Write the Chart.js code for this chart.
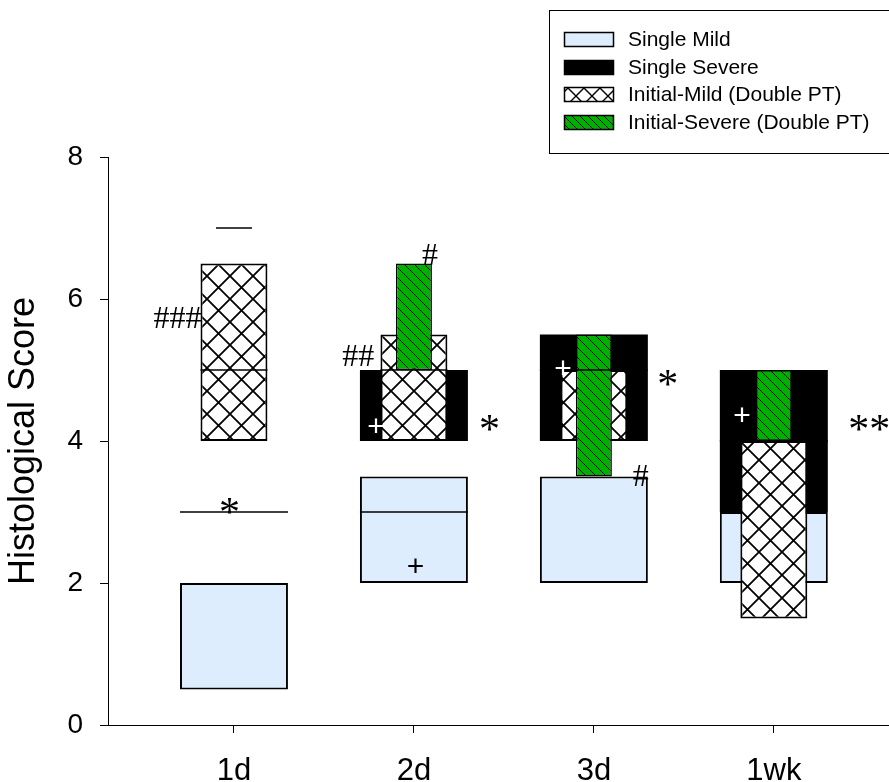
<!DOCTYPE html>
<html>
<head>
<meta charset="utf-8">
<title>Histological Score</title>
<script src="https://cdn.jsdelivr.net/npm/chart.js@4.4.1/dist/chart.umd.min.js"></script>
<style>
  body { margin: 0; background: #fff; }
  #wrap { width: 889px; height: 782px; }
</style>
</head>
<body>
<div id="wrap"><canvas id="score" width="889" height="782"></canvas></div>
<script>
// time points and y ticks
const categories = ['1d', '2d', '3d', '1wk'];
const yTicks = [0, 2, 4, 6, 8];

// boxes, [25th, 75th] percentile for each time point
const singleMild = [[0.5, 2], [2, 3.5], [2, 3.5], [2, 3]];
const singleSevere = [[3, 3], [4, 5], [4, 5.5], [3, 5]];
const initialMild = [[4, 6.5], [4, 5.5], [4, 5], [1.5, 4]];
const initialSevere = [[7, 7], [5, 6.5], [3.5, 5.5], [4, 5]];

// medians
const singleMildMed = [2, 3, 2, 2];
const singleSevereMed = [3, 4, 5, 4];
const initialMildMed = [5, 5, 4, 4];
const initialSevereMed = [7, 5, 5, 5];

// significance marks (x in category units, y in score)
const marks = [
    { text: '###', x: 0.686, y: 5.74 },
    { text: '*', x: 0.975, y: 3.08 },
    { text: '#', x: 2.09, y: 6.63 },
    { text: '##', x: 1.69, y: 5.2 },
    { text: '+', x: 1.79, y: 4.22, white: true },
    { text: '*', x: 2.42, y: 4.26 },
    { text: '+', x: 2.01, y: 2.25 },
    { text: '+', x: 2.83, y: 5.03, white: true },
    { text: '*', x: 3.41, y: 4.89 },
    { text: '#', x: 3.26, y: 3.51 },
    { text: '+', x: 3.825, y: 4.37, white: true },
    { text: '**', x: 4.53, y: 4.26 }
];

const pos = categories.map((c, i) => i + 1);
const toPoints = boxes => boxes.map((b, i) => ({ x: pos[i], y: b }));

// Patterns
function crossHatch(size, lw) {
    const c = document.createElement('canvas');
    c.width = c.height = size;
    const g = c.getContext('2d');
    g.fillStyle = '#fff';
    g.fillRect(0, 0, size, size);
    g.strokeStyle = '#000';
    g.lineWidth = lw;
    g.beginPath();
    g.moveTo(-1, -1); g.lineTo(size + 1, size + 1);
    g.moveTo(size + 1, -1); g.lineTo(-1, size + 1);
    g.stroke();
    return g.createPattern(c, 'repeat');
}

function diagHatch(size, color) {
    const c = document.createElement('canvas');
    c.width = c.height = size;
    const g = c.getContext('2d');
    g.fillStyle = color;
    g.fillRect(0, 0, size, size);
    g.strokeStyle = '#000';
    g.lineWidth = 1;
    g.beginPath();
    g.moveTo(-1, -1); g.lineTo(size + 1, size + 1);
    g.stroke();
    return g.createPattern(c, 'repeat');
}

const GREEN = '#00b000';
const mildFill = crossHatch(23, 1.8);
const severeFill = diagHatch(10, GREEN);

// median line per box, drawn right after its own dataset
const medianLines = {
    id: 'medianLines',
    afterDatasetDraw(chart, args) {
        const ds = chart.data.datasets[args.index];
        if (!ds.medians) return;
        const ctx = chart.ctx;
        const y = chart.scales.y;
        ctx.save();
        ctx.strokeStyle = '#000';
        ctx.lineWidth = 1.5;
        args.meta.data.forEach((bar, i) => {
            const m = ds.medians[i];
            const [lo, hi] = ds.data[i].y;
            if (m == null) return;
            // a median sitting on the box edge is already drawn by the border
            if (lo !== hi && (m === lo || m === hi)) return;
            const p = y.getPixelForValue(m);
            ctx.beginPath();
            ctx.moveTo(bar.x - bar.width / 2, p);
            ctx.lineTo(bar.x + bar.width / 2, p);
            ctx.stroke();
        });
        ctx.restore();
    }
};

// *, #, + marks
const sigMarks = {
    id: 'sigMarks',
    afterDatasetsDraw(chart) {
        const ctx = chart.ctx;
        const xs = chart.scales.x, ys = chart.scales.y;
        ctx.save();
        ctx.textAlign = 'left';
        ctx.textBaseline = 'alphabetic';
        marks.forEach(mk => {
            if (mk.text.startsWith('+')) ctx.font = '30px "Liberation Sans", Arial, sans-serif';
            else if (mk.text.startsWith('*')) ctx.font = '42px "Liberation Serif", "Times New Roman", serif';
            else ctx.font = '32px "Liberation Serif", "Times New Roman", serif';
            ctx.fillStyle = mk.white ? '#fff' : '#000';
            const m = ctx.measureText(mk.text);
            const w = m.actualBoundingBoxLeft + m.actualBoundingBoxRight;
            const h = m.actualBoundingBoxAscent + m.actualBoundingBoxDescent;
            const px = xs.getPixelForValue(mk.x) - w / 2 + m.actualBoundingBoxLeft;
            const py = ys.getPixelForValue(mk.y) - h / 2 + m.actualBoundingBoxAscent;
            ctx.fillText(mk.text, px, py);
        });
        ctx.restore();
    }
};

// boxed legend at the top right
const legendSwatch = {
    'Single Mild': '#deedfd',
    'Single Severe': '#000',
    'Initial-Mild (Double PT)': crossHatch(16, 1.4),
    'Initial-Severe (Double PT)': diagHatch(8, GREEN)
};
const boxLegend = {
    id: 'boxLegend',
    afterDraw(chart) {
        const ctx = chart.ctx;
        ctx.save();
        ctx.strokeStyle = '#000';
        ctx.lineWidth = 1;
        ctx.strokeRect(549.5, 10.5, 360, 143);
        ctx.font = '21px "Liberation Sans", Arial, sans-serif';
        ctx.textBaseline = 'middle';
        chart.data.datasets.forEach((ds, i) => {
            const top = Math.round(32 + i * 27.5);
            ctx.fillStyle = legendSwatch[ds.label];
            ctx.fillRect(564, top, 50, 15);
            ctx.lineWidth = 1.5;
            ctx.strokeRect(564.5, top + 0.5, 49, 14);
            ctx.fillStyle = '#000';
            ctx.fillText(ds.label, 628, top + 8);
        });
        ctx.restore();
    }
};

Chart.defaults.font.family = '"Liberation Sans", Arial, sans-serif';
Chart.defaults.color = '#000';

const ctx = document.getElementById('score').getContext('2d');
new Chart(ctx, {
    type: 'bar',
    data: {
        datasets: [{
            label: 'Single Mild',
            data: toPoints(singleMild),
            medians: singleMildMed,
            backgroundColor: '#deedfd',
            borderColor: '#000',
            borderWidth: 2,
            barPercentage: 0.6,
            order: 4
        }, {
            label: 'Single Severe',
            data: toPoints(singleSevere),
            medians: singleSevereMed,
            backgroundColor: '#000',
            borderWidth: 0,
            barPercentage: 0.6,
            order: 3
        }, {
            label: 'Initial-Mild (Double PT)',
            data: toPoints(initialMild),
            medians: initialMildMed,
            backgroundColor: mildFill,
            borderColor: '#000',
            borderWidth: 2,
            barPercentage: 0.372,
            order: 2
        }, {
            label: 'Initial-Severe (Double PT)',
            data: toPoints(initialSevere),
            medians: initialSevereMed,
            backgroundColor: severeFill,
            borderColor: '#000',
            borderWidth: 1.5,
            barPercentage: 0.2,
            order: 1
        }]
    },
    options: {
        responsive: false,
        animation: false,
        datasets: {
            bar: { grouped: false, categoryPercentage: 1, borderSkipped: false }
        },
        layout: { padding: { top: 157, right: 0, bottom: 0, left: 0 } },
        plugins: {
            legend: { display: false },
            tooltip: { enabled: false }
        },
        scales: {
            x: {
                type: 'linear',
                min: 0.3,
                max: 4.64,
                offset: false,
                afterBuildTicks: s => { s.ticks = pos.map(v => ({ value: v })); },
                afterFit: s => { s.height = 57; },
                border: { display: true, color: '#000', width: 1 },
                grid: { drawOnChartArea: false, drawTicks: true, tickLength: 8, color: '#000', offset: false },
                ticks: {
                    font: { size: 31 },
                    padding: 20,
                    maxRotation: 0,
                    autoSkip: false,
                    callback: v => categories[v - 1]
                }
            },
            y: {
                min: 0,
                max: 8,
                afterBuildTicks: s => { s.ticks = yTicks.map(v => ({ value: v })); },
                afterFit: s => { s.width = 108; },
                border: { display: true, color: '#000', width: 1 },
                grid: { drawOnChartArea: false, drawTicks: true, tickLength: 8, color: '#000' },
                ticks: { font: { size: 28 }, padding: 17 },
                title: {
                    display: true,
                    text: 'Histological Score',
                    font: { size: 36 },
                    padding: { top: 2, bottom: 0 }
                }
            }
        }
    },
    plugins: [medianLines, sigMarks, boxLegend]
});
</script>
</body>
</html>
